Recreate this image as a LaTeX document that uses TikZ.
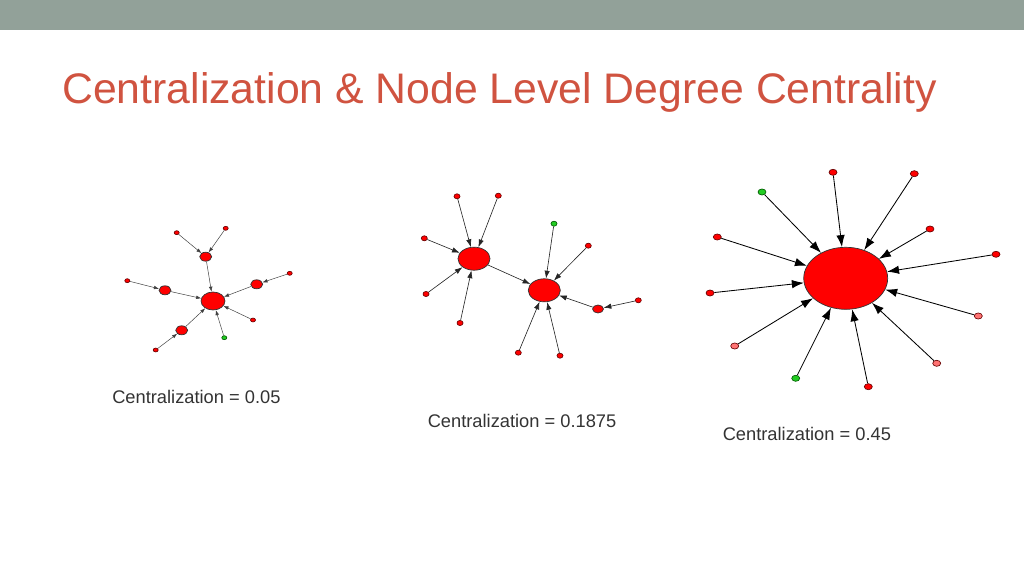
\documentclass[tikz,border=0pt]{standalone}
\usepackage{fontspec}
\setmainfont{Liberation Sans}
\usetikzlibrary{shapes.geometric,arrows.meta}

\definecolor{barcol}{HTML}{92A199}
\definecolor{titlered}{HTML}{D05340}
\definecolor{labelgray}{HTML}{333333}
\definecolor{nodegreen}{HTML}{22CC22}

\tikzset{
  dot/.style={ellipse,draw=red!40!black,fill=red,inner sep=0pt,line width=0.45pt},
  gdot/.style={dot,draw=green!35!black,fill=nodegreen},
  pdot/.style={dot,fill=red!55},
  hub/.style={ellipse,draw=black!80,fill=red,inner sep=0pt,line width=0.5pt},
  caption/.style={anchor=base west,inner sep=0pt,text=labelgray,font=\fontsize{13}{15}\selectfont}
}

\begin{document}
\begin{tikzpicture}[x=0.025cm,y=-0.025cm]
\useasboundingbox (0,0) rectangle (1024,576);

\fill[barcol] (0,0) rectangle (1024,30);
\node[anchor=base west,inner sep=0pt,text=titlered,font=\fontsize{30.4}{36}\selectfont] (title) at (62,103.5) {Centralization \& Node Level Degree Centrality};

% first network
\begin{scope}[every node/.append style={minimum width=3.6pt,minimum height=2.8pt},
  edge1/.style={-{Latex[length=3.6pt,width=2.6pt]},black!75,line width=0.35pt}]
\node[hub,minimum width=17pt,minimum height=12.8pt] (c1) at (213,301) {};
\node[hub,minimum width=8.5pt,minimum height=6.4pt] (m1a) at (205.7,256.7) {};
\node[hub,minimum width=8.5pt,minimum height=6.4pt] (m1b) at (165,290.3) {};
\node[hub,minimum width=8.5pt,minimum height=6.4pt] (m1c) at (256.7,284.3) {};
\node[hub,minimum width=8.5pt,minimum height=6.4pt] (m1d) at (181.7,330.3) {};
\node[dot] (l1a) at (176.7,232.7) {};
\node[dot] (l1b) at (225.7,228.3) {};
\node[dot] (l1c) at (127.3,280.7) {};
\node[dot] (l1d) at (289.7,273.3) {};
\node[dot] (l1e) at (155.7,350) {};
\node[dot] (l1f) at (253,320) {};
\node[gdot] (g1) at (224.3,337.7) {};

\draw[edge1] (l1a) -- (m1a);
\draw[edge1] (l1b) -- (m1a);
\draw[edge1] (l1c) -- (m1b);
\draw[edge1] (l1d) -- (m1c);
\draw[edge1] (l1e) -- (m1d);
\draw[edge1] (m1a) -- (c1);
\draw[edge1] (m1b) -- (c1);
\draw[edge1] (m1c) -- (c1);
\draw[edge1] (m1d) -- (c1);
\draw[edge1] (l1f) -- (c1);
\draw[edge1] (g1) -- (c1);
\end{scope}

% second network
\begin{scope}[every node/.append style={minimum width=4.3pt,minimum height=3.6pt},
  edge2/.style={-{Latex[length=5.5pt,width=3.8pt]},black!85,line width=0.45pt}]
\node[hub,minimum width=22.8pt,minimum height=16.4pt] (h2a) at (474,258.7) {};
\node[hub,minimum width=22.8pt,minimum height=16.4pt] (h2b) at (544.3,290.3) {};
\node[hub,minimum width=7.8pt,minimum height=5.7pt] (m2) at (598,309) {};
\node[dot] (l2a) at (457,196.3) {};
\node[dot] (l2b) at (498.3,195.7) {};
\node[dot] (l2c) at (424.3,238.3) {};
\node[dot] (l2d) at (426,294) {};
\node[dot] (l2e) at (460,323) {};
\node[gdot] (g2) at (554,223.7) {};
\node[dot] (l2f) at (588.3,245.7) {};
\node[dot] (l2g) at (518.3,352.7) {};
\node[dot] (l2h) at (560,355.7) {};
\node[dot] (l2i) at (638.3,300.3) {};

\draw[edge2] (l2a) -- (h2a);
\draw[edge2] (l2b) -- (h2a);
\draw[edge2] (l2c) -- (h2a);
\draw[edge2] (l2d) -- (h2a);
\draw[edge2] (l2e) -- (h2a);
\draw[edge2] (h2a) -- (h2b);
\draw[edge2] (g2) -- (h2b);
\draw[edge2] (l2f) -- (h2b);
\draw[edge2] (l2g) -- (h2b);
\draw[edge2] (l2h) -- (h2b);
\draw[edge2] (m2) -- (h2b);
\draw[edge2] (l2i) -- (m2);
\end{scope}

% third network
\begin{scope}[every node/.append style={minimum width=5.7pt,minimum height=4.3pt},
  edge3/.style={-{Latex[length=8.5pt,width=6pt]},black,line width=0.6pt}]
\node[hub,minimum width=59.7pt,minimum height=44.1pt] (h3) at (845.7,278.3) {};
\node[dot] (l3a) at (833,172.3) {};
\node[dot] (l3b) at (914.3,173.7) {};
\node[gdot] (g3a) at (762,192) {};
\node[dot] (l3c) at (930,229) {};
\node[dot] (l3d) at (717.3,237) {};
\node[dot] (l3e) at (996,254.3) {};
\node[dot] (l3f) at (710,293) {};
\node[pdot] (l3g) at (978.3,316) {};
\node[pdot] (l3h) at (734.7,346) {};
\node[pdot] (l3i) at (936.7,363.3) {};
\node[gdot] (g3b) at (795.7,378.3) {};
\node[dot] (l3j) at (868.3,386.7) {};

\draw[edge3] (l3a) -- (h3);
\draw[edge3] (l3b) -- (h3);
\draw[edge3] (g3a) -- (h3);
\draw[edge3] (l3c) -- (h3);
\draw[edge3] (l3d) -- (h3);
\draw[edge3] (l3e) -- (h3);
\draw[edge3] (l3f) -- (h3);
\draw[edge3] (l3g) -- (h3);
\draw[edge3] (l3h) -- (h3);
\draw[edge3] (l3i) -- (h3);
\draw[edge3] (g3b) -- (h3);
\draw[edge3] (l3j) -- (h3);
\end{scope}

\node[caption] (cap1) at (112,403) {Centralization = 0.05};
\node[caption] (cap2) at (427.5,427.5) {Centralization = 0.1875};
\node[caption] (cap3) at (722.5,440.5) {Centralization = 0.45};

\end{tikzpicture}
\end{document}
